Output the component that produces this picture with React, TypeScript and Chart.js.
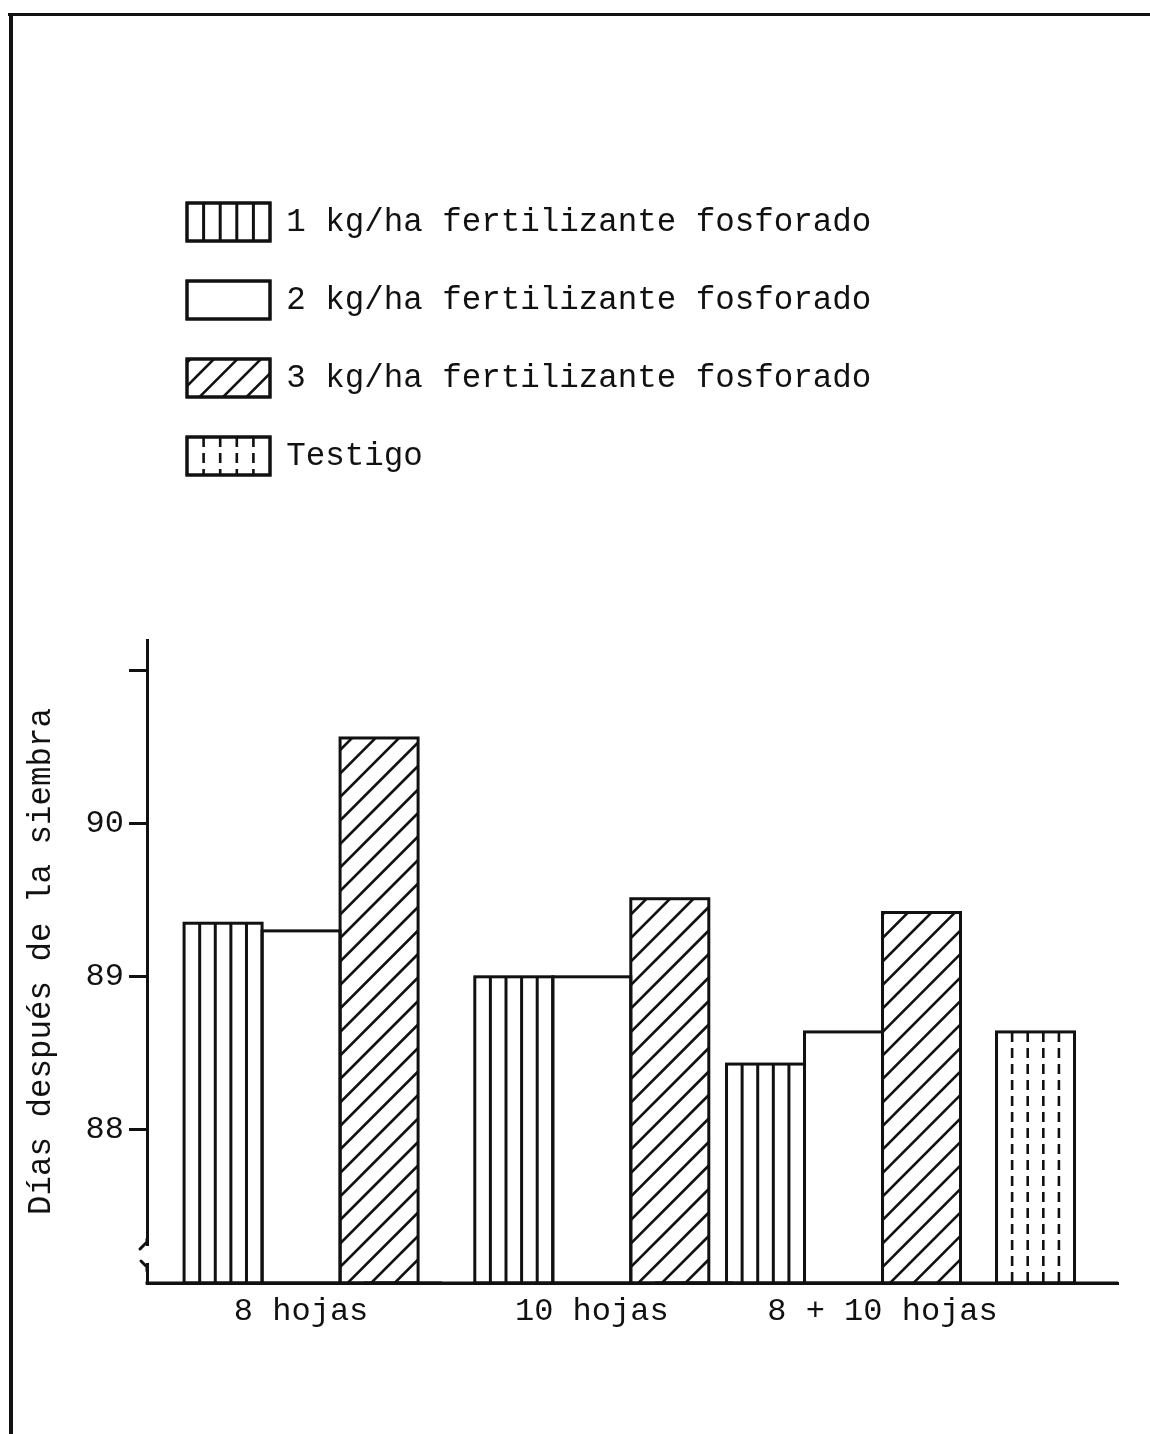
import React, { useEffect, useRef } from 'react';
import { Chart, registerables } from 'chart.js';

Chart.register(...registerables);

// ---------- data ----------
const CATEGORIES = ['8 hojas', '10 hojas', '8 + 10 hojas'];
const SERIES_NAMES = [
  '1 kg/ha fertilizante fosforado',
  '2 kg/ha fertilizante fosforado',
  '3 kg/ha fertilizante fosforado',
  'Testigo',
];
const KG1 = [89.35, 89.0, 88.43];
const KG2 = [89.3, 89.0, 88.64];
const KG3 = [90.56, 89.51, 89.42];
const TESTIGO: (number | null)[] = [null, null, 88.64];
const Y_MIN = 87;
const Y_MAX = 91.2;
const Y_TICKS = [88, 89, 90, 91];
const Y_TICK_LABELS = ['88', '89', '90', ''];
const Y_TITLE = 'Días después de la siembra';

// ---------- styles ----------
const FONT = "'Liberation Mono', 'DejaVu Sans Mono', monospace";
const INK = '#111';
const PATTERNS = ['vlines', 'plain', 'hatch', 'dashed'];
const BAR_W = 78;

function drawPattern(ctx: CanvasRenderingContext2D, kind: string, l: number, t: number, r: number, b: number) {
  ctx.save();
  ctx.beginPath();
  ctx.rect(l, t, r - l, b - t);
  ctx.clip();
  ctx.strokeStyle = INK;
  if (kind === 'vlines' || kind === 'dashed') {
    ctx.lineWidth = kind === 'vlines' ? 3 : 2.6;
    if (kind === 'dashed') ctx.setLineDash([10, 6]);
    for (let k = 1; k < 5; k++) {
      const x = l + ((r - l) * k) / 5;
      ctx.beginPath();
      ctx.moveTo(x, t);
      ctx.lineTo(x, b);
      ctx.stroke();
    }
  } else if (kind === 'hatch') {
    ctx.lineWidth = 2.6;
    const w = r - l;
    const step = 23.5;
    for (let c = -w; c < b - t + step; c += step) {
      ctx.beginPath();
      ctx.moveTo(l, b - c);
      ctx.lineTo(r, b - c - w);
      ctx.stroke();
    }
  }
  ctx.restore();
  ctx.save();
  ctx.lineWidth = 3;
  ctx.strokeStyle = INK;
  ctx.strokeRect(l, t, r - l, b - t);
  ctx.restore();
}

const decorPlugin = {
  id: 'decor',
  beforeInit(chart: any) {
    const legend = chart.legend;
    if (legend) {
      const origFit = legend.fit;
      legend.fit = function fit() {
        origFit.call(legend);
        this.height += 155;
      };
    }
  },
  beforeDraw(chart: any) {
    const ctx = chart.ctx as CanvasRenderingContext2D;
    ctx.save();
    ctx.fillStyle = '#fff';
    ctx.fillRect(0, 0, chart.width, chart.height);
    ctx.fillStyle = INK;
    // page frame (top and left rules)
    ctx.fillRect(8, 13, chart.width - 8, 3);
    ctx.fillRect(9, 13, 4, chart.height - 13);
    ctx.restore();
  },
  afterDatasetsDraw(chart: any) {
    const ctx = chart.ctx as CanvasRenderingContext2D;
    const area = chart.chartArea;
    chart.data.datasets.forEach((_ds: any, di: number) => {
      const meta = chart.getDatasetMeta(di);
      meta.data.forEach((el: any) => {
        const p = el.getProps(['x', 'y', 'base', 'width'], true);
        if (!isFinite(p.y) || !isFinite(p.x)) return;
        const bottom = Math.min(p.base, area.bottom);
        drawPattern(ctx, PATTERNS[di], p.x - p.width / 2, p.y, p.x + p.width / 2, bottom);
      });
    });
  },
  afterDraw(chart: any) {
    const ctx = chart.ctx as CanvasRenderingContext2D;
    // legend boxes with patterns
    const legend = chart.legend;
    if (legend && legend.legendHitBoxes) {
      const lo = legend.options.labels;
      legend.legendHitBoxes.forEach((hb: any, i: number) => {
        drawPattern(ctx, PATTERNS[i], hb.left, hb.top, hb.left + lo.boxWidth, hb.top + lo.boxHeight);
      });
    }
    // x axis line drawn on top of the bar outlines
    const { left, right, bottom } = chart.chartArea;
    ctx.save();
    ctx.strokeStyle = INK;
    ctx.lineWidth = 3;
    ctx.beginPath();
    ctx.moveTo(left - 1.5, bottom);
    ctx.lineTo(right, bottom);
    ctx.stroke();
    // axis break mark near the bottom of the y axis
    ctx.fillStyle = '#fff';
    ctx.fillRect(left - 4, bottom - 37, 8, 17);
    ctx.lineWidth = 3;
    ctx.lineCap = 'round';
    ctx.beginPath();
    ctx.moveTo(left, bottom - 44);
    ctx.lineTo(left, bottom - 41);
    ctx.lineTo(left - 7, bottom - 34);
    ctx.stroke();
    ctx.beginPath();
    ctx.moveTo(left - 6, bottom - 22);
    ctx.lineTo(left, bottom - 16);
    ctx.lineTo(left, bottom - 12);
    ctx.stroke();
    ctx.restore();
  },
};

const toPoints = (arr: (number | null)[]) => arr.map((y, i) => ({ x: i, y }));

export default function App() {
  const canvasRef = useRef<HTMLCanvasElement | null>(null);

  useEffect(() => {
    if (!canvasRef.current) return;
    const font = { family: FONT, size: 32.5 };
    const tickFont = { family: FONT, size: 32 };
    const barStyle = {
      backgroundColor: '#fff',
      borderColor: INK,
      borderWidth: 0,
      barThickness: BAR_W,
      base: Y_MIN,
      skipNull: true,
      grouped: true,
    };
    const chart = new Chart(canvasRef.current, {
      type: 'bar',
      data: {
        datasets: [
          { label: SERIES_NAMES[0], data: toPoints(KG1), ...barStyle },
          { label: SERIES_NAMES[1], data: toPoints(KG2), ...barStyle },
          { label: SERIES_NAMES[2], data: toPoints(KG3), ...barStyle },
          {
            label: SERIES_NAMES[3],
            data: toPoints(TESTIGO),
            ...barStyle,
            barThickness: 102,
            maxBarThickness: BAR_W,
          },
        ] as any,
      },
      options: {
        responsive: false,
        animation: false,
        layout: { padding: { top: 163, left: 8, right: 32, bottom: 0 } },
        plugins: {
          legend: {
            position: 'top',
            align: 'start',
            fullSize: false,
            labels: {
              boxWidth: 83,
              boxHeight: 38,
              padding: 40,
              color: INK,
              font,
              generateLabels(c: any) {
                const items = Chart.defaults.plugins.legend.labels.generateLabels(c);
                return items.map((it: any) => ({
                  ...it,
                  fillStyle: '#fff',
                  strokeStyle: INK,
                  lineWidth: 3,
                }));
              },
            },
          } as any,
          tooltip: { enabled: false },
        },
        scales: {
          x: {
            type: 'linear',
            min: -0.53,
            max: 2.81,
            offset: false,
            bounds: 'data',
            grid: { display: false, drawTicks: false },
            border: { display: true, color: INK, width: 3, z: 1 },
            ticks: {
              color: INK,
              font: tickFont,
              padding: 9,
              maxRotation: 0,
              autoSkip: false,
              callback: (v: any) => CATEGORIES[v] ?? '',
            },
            afterBuildTicks: (s: any) => {
              s.ticks = CATEGORIES.map((_, i) => ({ value: i }));
            },
            afterFit: (s: any) => {
              s.height = 151;
            },
          },
          y: {
            type: 'linear',
            min: Y_MIN,
            max: Y_MAX,
            beginAtZero: false,
            grid: {
              display: true,
              drawOnChartArea: false,
              drawTicks: true,
              tickLength: 18,
              tickWidth: 3,
              tickColor: INK,
              color: INK,
            },
            border: { display: true, color: INK, width: 3, z: 1 },
            ticks: {
              color: INK,
              font: tickFont,
              padding: 5,
              callback: (v: any) => {
                const k = Y_TICKS.indexOf(Number(v));
                return k >= 0 ? Y_TICK_LABELS[k] : '';
              },
            },
            afterBuildTicks: (s: any) => {
              s.ticks = Y_TICKS.map((v) => ({ value: v }));
            },
            title: {
              display: true,
              text: Y_TITLE,
              color: INK,
              font,
              padding: { top: 14, bottom: 0 },
            },
            afterFit: (s: any) => {
              s.width = 139;
            },
          },
        } as any,
      },
      plugins: [decorPlugin as any],
    });
    return () => chart.destroy();
  }, []);

  return (
    <div style={{ position: 'absolute', left: 0, top: 0, width: 1150, height: 1434, background: '#fff' }}>
      <canvas ref={canvasRef} width={1150} height={1434} style={{ display: 'block' }} />
    </div>
  );
}
